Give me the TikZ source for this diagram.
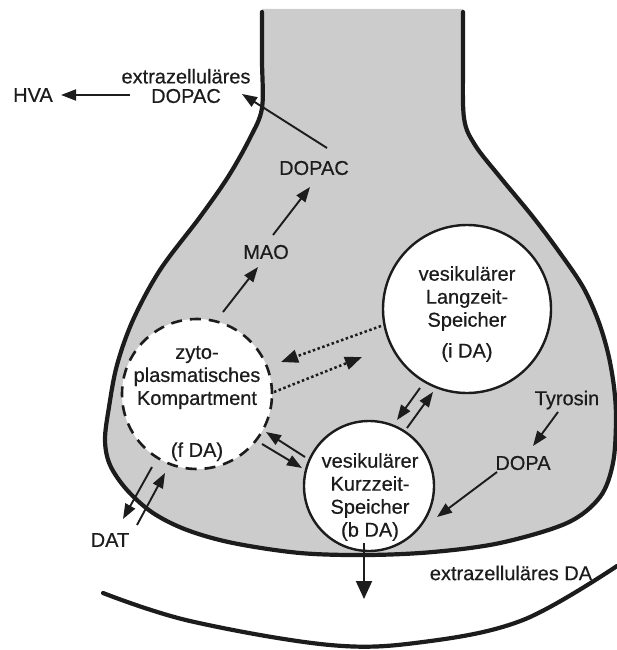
\documentclass[tikz,border=0pt]{standalone}
\usepackage{fontspec}
\setmainfont{Liberation Sans}
\newfontfamily\lblfont{Liberation Sans}[FakeBold=0.5]
\usetikzlibrary{arrows.meta}
\definecolor{ink}{RGB}{28,28,28}
\definecolor{plasma}{RGB}{204,204,204}

\begin{document}
\begin{tikzpicture}[x=1pt,y=-1pt,
  lbl/.style={text=ink, font=\lblfont\fontsize{20}{23}\selectfont, inner sep=0pt, align=center},
  flow/.style={draw=ink, line width=1.9pt, -{Triangle[length=15pt,width=11pt]}},
  bigflow/.style={flow, -{Triangle[length=18pt,width=16pt]}},
  dotflow/.style={flow, line width=2.5pt, dash pattern=on 2.5pt off 2.5pt,
    -{Triangle[length=17pt,width=13pt]}},
  membrane/.style={draw=ink, line width=4.2pt, line cap=round},
  vesicle/.style={circle, draw=ink, fill=white, line width=2.4pt, inner sep=0pt},
  cytosol/.style={circle, draw=ink, fill=white, line width=2.6pt,
    dash pattern=on 11pt off 8pt, inner sep=0pt}]

\useasboundingbox (0,0) rectangle (617,650);

% presynaptic terminal: stippled cytoplasm and its membrane
\fill[plasma] (262,9) -- plot[smooth,tension=0.55] coordinates {
  (262,12) (262,60) (262,108) (250,138) (228,177) (200,217) (160,270)
  (133,320) (117,365) (109,407) (105,440) (110,465) (127,490) (153,513)
  (187,530) (233,543) (300,553) (367,555) (433,552) (500,543) (567,523)
  (600,497) (613,463) (616,420) (614,387) (608,353) (598,320) (583,287)
  (560,253) (533,217) (500,177) (475,145) (464,118) (463,60) (463,12)}
  -- (463,9) -- cycle;
\draw[membrane] plot[smooth,tension=0.55] coordinates {
  (262,12) (262,60) (262,108) (250,138) (228,177) (200,217) (160,270)
  (133,320) (117,365) (109,407) (105,440) (110,465) (127,490) (153,513)
  (187,530) (233,543) (300,553) (367,555) (433,552) (500,543) (567,523)
  (600,497) (613,463) (616,420) (614,387) (608,353) (598,320) (583,287)
  (560,253) (533,217) (500,177) (475,145) (464,118) (463,60) (463,12)};

% postsynaptic membrane
\draw[membrane] plot[smooth,tension=0.6] coordinates {
  (103,593) (190,621) (330,645) (423,642) (523,620) (617,566)};

% compartments
\node[cytosol, minimum size=150pt] (cyto) at (197,394) {};
\node[vesicle, minimum size=168pt] (lz) at (467,309) {};
\node[vesicle, minimum size=130pt] (kz) at (369,486) {};

% labels
\node[lbl] (hva) at (33,95) {HVA};
\node[lbl, font=\lblfont\fontsize{20}{19.5}\selectfont] (exdopac) at (186,86) {extrazelluläres\\DOPAC};
\node[lbl] (dopac) at (314,168) {DOPAC};
\node[lbl] (mao) at (266,252) {MAO};
\node[lbl] (cytotext) at (197,403.5) {zyto-\\plasmatisches\\Kompartment\\[29pt](f DA)};
\node[lbl] (lztext) at (467,314) {vesikulärer\\Langzeit-\\Speicher\\[8pt](i DA)};
\node[lbl] (kztext) at (370,497) {vesikulärer\\Kurzzeit-\\Speicher\\(b DA)};
\node[lbl] (tyr) at (567,400) {Tyrosin};
\node[lbl] (dopa) at (523,463) {DOPA};
\node[lbl] (exda) at (511,573) {extrazelluläres DA};
\node[lbl] (dat) at (110,540) {DAT};

% connector end points
\coordinate (hvaS) at (130,95);    \coordinate (hvaE) at (61,95);
\coordinate (dopS) at (327,148);   \coordinate (dopE) at (242,94);
\coordinate (maoS) at (273,235);   \coordinate (maoE) at (310,187);
\coordinate (cytS) at (223,312);   \coordinate (cytE) at (258,267);
\coordinate (dlS) at (381,326);    \coordinate (dlE) at (281,362);
\coordinate (drS) at (274,392);    \coordinate (drE) at (362,357);
\coordinate (kcS) at (305,457);    \coordinate (kcE) at (266,432);
\coordinate (ckS) at (262,444);    \coordinate (ckE) at (302,468);
\coordinate (lkS) at (420,388);    \coordinate (lkE) at (397,420);
\coordinate (klS) at (407,428);    \coordinate (klE) at (433,392);
\coordinate (tdS) at (558,412);    \coordinate (tdE) at (533,446);
\coordinate (dkS) at (497,472);    \coordinate (dkE) at (437,517);
\coordinate (relS) at (364,543);   \coordinate (relE) at (364,599);
\coordinate (daoS) at (152,467);   \coordinate (daoE) at (123,519);
\coordinate (daiS) at (137,525);   \coordinate (daiE) at (165,473);

% connectors
\draw[flow] (hvaS) -- (hvaE);
\draw[flow] (dopS) -- (dopE);
\draw[flow] (maoS) -- (maoE);
\draw[flow] (cytS) -- (cytE);
\draw[dotflow] (dlS) -- (dlE);
\draw[dotflow] (drS) -- (drE);
\draw[flow] (kcS) -- (kcE);
\draw[flow] (ckS) -- (ckE);
\draw[flow] (lkS) -- (lkE);
\draw[flow] (klS) -- (klE);
\draw[flow] (tdS) -- (tdE);
\draw[flow] (dkS) -- (dkE);
\draw[bigflow] (relS) -- (relE);
\draw[flow] (daoS) -- (daoE);
\draw[flow] (daiS) -- (daiE);
\end{tikzpicture}
\end{document}
